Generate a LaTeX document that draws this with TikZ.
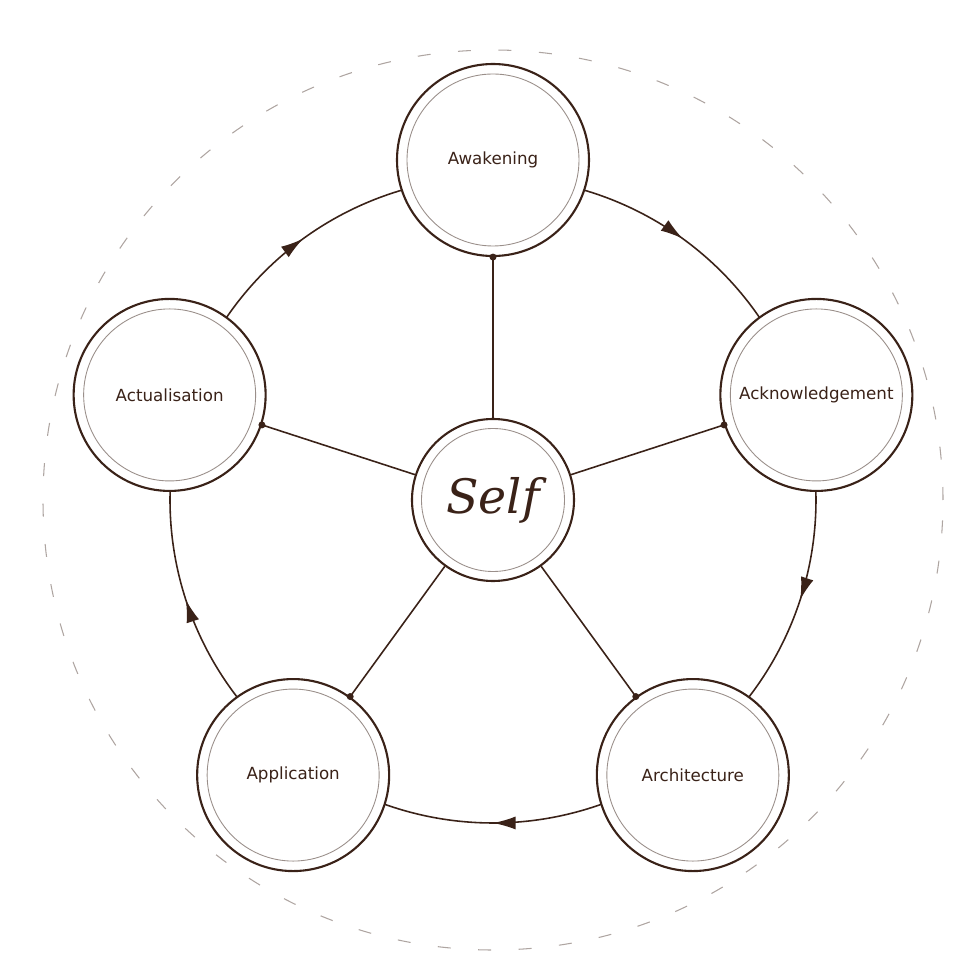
\documentclass[tikz,border=0pt]{standalone}
\usepackage{fontspec}
\setmainfont{DejaVu Sans}
\newfontfamily\selffont{DejaVu Serif}
\usetikzlibrary{decorations.markings,arrows.meta}
\definecolor{ink}{HTML}{3A2218}
\definecolor{rim}{HTML}{9A8F8A}
\tikzset{
  stage/.style={circle, draw=ink, line width=1.2pt, fill=white, minimum size=3.84cm, inner sep=0pt, font=\fontsize{9.5}{11}\selectfont, text=ink},
  selfnode/.style={circle, draw=ink, line width=1.2pt, fill=white, minimum size=3.24cm, inner sep=0pt, text=ink},
  spoke/.style={draw=ink, line width=0.9pt},
  flow/.style={draw=ink, line width=0.9pt, postaction={decorate},
    decoration={markings, mark=at position 0.5 with {\arrow{Latex[length=4.5mm,width=2.6mm]}}}}
}
\begin{document}
\begin{tikzpicture}
  \useasboundingbox (-9.86,-9.6) rectangle (9.74,10.0);
  \draw[rim!80, line width=0.6pt, dash pattern=on 0.26cm off 0.55cm] (0,0) circle (9.0cm);
  % cycle arcs
  \foreach \a in {90,18,-54,-126,-198}
    \draw[flow] (\a-16.4:6.46) arc[start angle=\a-16.4, end angle=\a-55.6, radius=6.46];
  \node[selfnode] (self) at (0,0) {\selffont\itshape\fontsize{27}{30}\selectfont Self};
  \draw[rim, line width=0.5pt] (self.center) circle (1.43cm);
  \node[stage] (aw) at (90:6.8) {Awakening};
  \node[stage] (ack) at (18:6.8) {Acknowledgement};
  \node[stage] (arc) at (-54:6.8) {Architecture};
  \node[stage] (app) at (-126:6.8) {Application};
  \node[stage] (act) at (162:6.8) {Actualisation};
  \foreach \n in {aw,ack,arc,app,act} {
    \draw[rim, line width=0.5pt] (\n.center) circle (1.72cm);
    \draw[spoke] (self) -- (\n);
    \fill[ink] (\n.center) ++(0,0) coordinate (tmp);
  }
  % dots at the outer ends of the spokes
  \foreach \n/\a in {aw/270,ack/198,arc/126,app/54,act/342}
    \fill[ink] (\n.\a) circle (0.07cm);
\end{tikzpicture}
\end{document}
